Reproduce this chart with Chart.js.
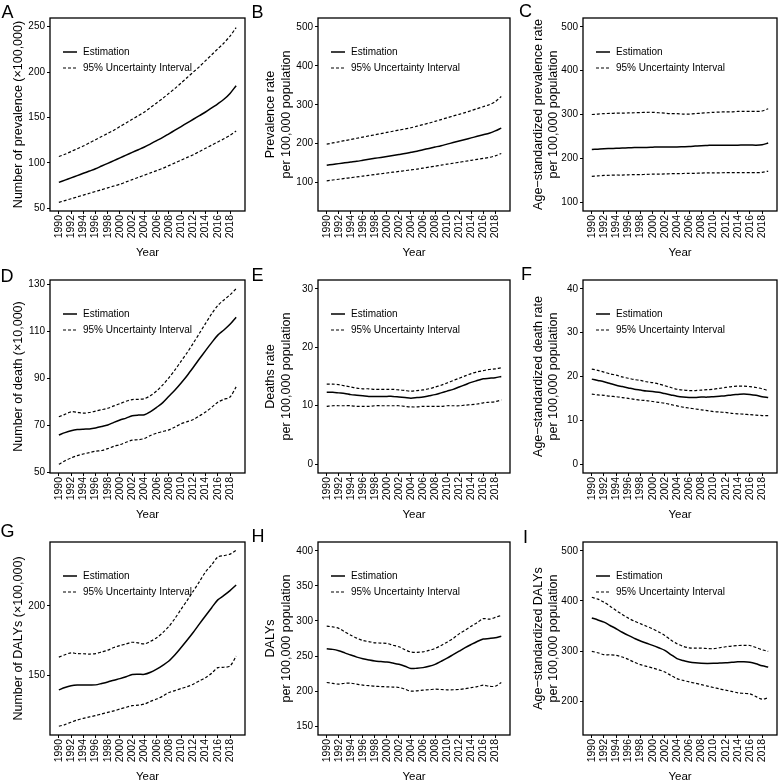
<!DOCTYPE html>
<html>
<head>
<meta charset="utf-8">
<title>Burden 1990-2019</title>
<script src="https://cdn.jsdelivr.net/npm/chart.js@4.4.1/dist/chart.umd.min.js"></script>
<style>
  html, body { margin: 0; padding: 0; background: #fff; }
  #page { position: relative; width: 780px; height: 782px; overflow: hidden; }
  #page canvas { position: absolute; }
  .letter { position: absolute; font: 18px 'Liberation Sans', Arial, sans-serif; line-height: 18px; color: #000; }
</style>
</head>
<body>
<div id="page"></div>
<script>
// ============================================
// Data
// ============================================

const years = [1990, 1991, 1992, 1993, 1994, 1995, 1996, 1997, 1998, 1999,
  2000, 2001, 2002, 2003, 2004, 2005, 2006, 2007, 2008, 2009,
  2010, 2011, 2012, 2013, 2014, 2015, 2016, 2017, 2018, 2019];
const yearTicks = [1990, 1992, 1994, 1996, 1998, 2000, 2002, 2004, 2006, 2008,
  2010, 2012, 2014, 2016, 2018];
const legendLabels = ['Estimation', '95% Uncertainty Interval'];

// A - number of prevalence (x100,000)
const prevNumEst = [78.5, 81, 83.5, 86, 88.5, 91, 93.5, 96.5, 99.5, 102.5, 105.5, 108.5, 111.5, 114.5, 117.5, 121, 124.5, 128, 132, 136, 140, 144, 148, 152, 156, 160.5, 165, 170, 176.5, 185];
const prevNumUpper = [107, 109.5, 112.5, 115.5, 118.5, 122, 125.5, 129, 132.5, 136, 140, 144, 148, 152, 156, 161, 166, 171, 176.5, 182, 188, 194, 200, 206, 212.5, 219, 225.5, 232, 239.5, 249];
const prevNumLower = [56.5, 58.5, 60.5, 62.5, 64.5, 66.5, 68.5, 70.5, 72.5, 74.5, 76.5, 79, 81.5, 84, 86.5, 89, 91.5, 94, 97, 100, 103, 106, 109, 112.5, 116, 119.5, 123, 126.5, 130.5, 135];
const prevNumTicks = [50, 100, 150, 200, 250];

// B - prevalence rate
const prevRateEst = [145, 147, 149, 151, 153, 155, 157.5, 160, 162.5, 165, 167.5, 170, 172.5, 175, 178, 181, 184.5, 188, 191.5, 195, 199, 203, 207, 211, 215, 219, 223, 227, 233, 240];
const prevRateUpper = [199, 202, 205, 208, 211, 214, 217, 220, 223, 226, 229, 232, 235, 238, 241, 245, 249, 253, 257.5, 262, 266.5, 271, 275.5, 280, 285, 290, 295, 300, 308, 321];
const prevRateLower = [105, 107, 109, 111, 113, 115, 117, 119, 121, 123, 125, 127, 129, 131, 133, 135, 137.5, 140, 142.5, 145, 147.5, 150, 152.5, 155, 157.5, 160, 162.5, 165, 169, 175];
const prevRateTicks = [100, 200, 300, 400, 500];

// C - age-standardized prevalence rate
const asPrevEst = [220, 221, 222, 222.5, 223, 223.5, 224, 224.5, 225, 225, 225.5, 226, 226, 226, 226, 226.5, 227, 228, 229, 229.5, 230, 230, 230, 230, 230, 230.5, 230.5, 230, 231, 235];
const asPrevUpper = [300, 301, 302, 302.5, 303, 303, 303.5, 304, 304.5, 305, 305, 304, 303, 302, 302, 301, 301, 302, 303, 304, 305, 305.5, 306, 306, 307, 307, 307, 307, 308, 313];
const asPrevLower = [159, 160, 161, 161.5, 162, 162, 162.5, 163, 163, 163.5, 164, 164, 164.5, 165, 165, 165.5, 166, 166, 166.5, 167, 167, 167, 167.5, 167.5, 167.5, 167.5, 167.5, 167.5, 168, 171];
const asPrevTicks = [100, 200, 300, 400, 500];

// D - number of death (x10,000)
const deathNumEst = [65.8, 66.8, 67.6, 68.1, 68.3, 68.4, 68.8, 69.4, 70.1, 71.2, 72.2, 73, 74, 74.3, 74.4, 75.8, 77.6, 79.6, 82.3, 85, 88, 91.2, 94.7, 98.3, 101.8, 105.2, 108.4, 110.6, 113, 116];
const deathNumUpper = [73.6, 74.6, 75.7, 75.5, 75.1, 75.4, 76, 76.6, 77.2, 78.2, 79.2, 80.2, 80.9, 81, 81.3, 82.6, 84.6, 87.2, 90.2, 93.6, 97.3, 101, 105, 109.2, 113.4, 117.5, 121, 123.4, 125.6, 128.2];
const deathNumLower = [53.3, 54.8, 56, 57, 57.7, 58.3, 58.9, 59.2, 60, 61, 61.7, 62.7, 63.6, 63.8, 64.3, 65.6, 66.6, 67.3, 68, 69.2, 70.6, 71.5, 72.4, 74, 75.6, 77.6, 79.8, 81, 82, 86.3];
const deathNumTicks = [50, 70, 90, 110, 130];

// E - deaths rate
const deathRateEst = [12.3, 12.3, 12.2, 12.1, 11.9, 11.8, 11.7, 11.6, 11.6, 11.6, 11.6, 11.6, 11.5, 11.4, 11.3, 11.4, 11.5, 11.7, 11.9, 12.2, 12.5, 12.8, 13.2, 13.6, 14.0, 14.3, 14.6, 14.7, 14.8, 15.0];
const deathRateUpper = [13.7, 13.7, 13.6, 13.4, 13.2, 13.0, 12.9, 12.9, 12.8, 12.8, 12.8, 12.8, 12.7, 12.6, 12.5, 12.6, 12.7, 12.9, 13.2, 13.5, 13.9, 14.3, 14.7, 15.1, 15.5, 15.8, 16.0, 16.2, 16.3, 16.5];
const deathRateLower = [9.9, 10.0, 10.0, 10.0, 10.0, 9.9, 9.9, 9.9, 10.0, 10.0, 10.0, 10.0, 10.0, 9.9, 9.8, 9.8, 9.9, 9.9, 9.9, 9.9, 10.0, 10.0, 10.0, 10.1, 10.2, 10.3, 10.5, 10.6, 10.7, 11.0];
const deathRateTicks = [0, 10, 20, 30];

// F - age-standardized death rate
const asDeathEst = [19.4, 19.1, 18.8, 18.4, 18.0, 17.7, 17.4, 17.1, 16.9, 16.7, 16.6, 16.4, 16.1, 15.8, 15.5, 15.3, 15.2, 15.2, 15.3, 15.3, 15.4, 15.5, 15.6, 15.8, 15.9, 16.0, 15.9, 15.7, 15.4, 15.2];
const asDeathUpper = [21.7, 21.4, 21.0, 20.6, 20.3, 19.9, 19.6, 19.3, 19.1, 18.8, 18.6, 18.3, 17.9, 17.5, 17.1, 16.9, 16.8, 16.8, 16.9, 17.0, 17.1, 17.3, 17.5, 17.7, 17.8, 17.8, 17.7, 17.5, 17.2, 16.8];
const asDeathLower = [16.0, 15.8, 15.7, 15.5, 15.4, 15.2, 15.0, 14.8, 14.6, 14.5, 14.3, 14.1, 13.9, 13.6, 13.3, 13.0, 12.8, 12.6, 12.4, 12.2, 12.0, 11.9, 11.8, 11.6, 11.5, 11.4, 11.3, 11.2, 11.1, 11.1];
const asDeathTicks = [0, 10, 20, 30, 40];

// G - number of DALYs (x100,000)
const dalyNumEst = [139.5, 141.2, 142.4, 143, 143.1, 143, 143.1, 144.1, 145.2, 146.5, 147.6, 149, 150.6, 150.8, 150.7, 152.2, 154.5, 157.2, 160.3, 164.8, 170, 175.4, 181, 187, 192.9, 198.7, 204.3, 207.5, 211, 215];
const dalyNumUpper = [163.1, 164.8, 166.2, 165.6, 165.5, 165.3, 165.6, 166.8, 168.1, 170, 171.4, 172.6, 173.8, 173.3, 172.6, 174.5, 177, 180.7, 185.2, 191, 197.6, 204, 210.7, 217.5, 224.5, 229.5, 235.2, 236.2, 237.3, 240];
const dalyNumLower = [113.3, 114.5, 116.2, 117.8, 119, 120, 121, 122.2, 123.3, 124.4, 125.7, 127, 128.1, 128.5, 129.3, 131.2, 132.9, 135, 137.6, 139, 140.5, 141.8, 143.6, 146, 148.3, 151.5, 155.5, 155.8, 156.7, 163.8];
const dalyNumTicks = [150, 200];

// H - DALYs rate
const dalyRateEst = [260.4, 259.5, 257.5, 254.5, 251.4, 248.5, 246.2, 244.4, 242.9, 242.2, 241.5, 240, 238.2, 235.5, 232.3, 232.6, 233.5, 235.4, 238.2, 242.5, 247, 252, 257, 262, 266.5, 270.7, 274.2, 275, 276, 278.3];
const dalyRateUpper = [292.5, 291.5, 289.5, 284.5, 279.7, 275.5, 272.2, 270.5, 268.9, 268.5, 267.9, 265.5, 263.2, 259, 255.7, 255.3, 256, 258, 260.8, 265, 269.8, 275, 281.6, 287, 292.5, 297.5, 303.3, 302.5, 305, 308];
const dalyRateLower = [212.3, 211, 210, 211.3, 211.3, 210, 208.5, 207.8, 207, 206.5, 206.1, 205.8, 205.2, 202.8, 200, 200.5, 201.4, 202, 202.8, 202.3, 201.9, 202, 202.4, 203.5, 205, 206.5, 208.5, 207, 207, 212.3];
const dalyRateTicks = [150, 200, 250, 300, 350, 400];

// I - age-standardized DALYs
const asDalyEst = [366, 362, 357.6, 351, 344.4, 337.5, 331.1, 325.3, 319.9, 315.5, 311.3, 306.5, 301.3, 293, 285, 281, 278.3, 276.5, 275.5, 275.3, 275.5, 276, 276.5, 277.5, 278.5, 278.5, 277.5, 274.5, 270.5, 268.2];
const asDalyUpper = [407.3, 403.5, 397.4, 389.5, 380.8, 373, 365.6, 359.5, 354.3, 349.5, 344.4, 338, 331.1, 322, 314.6, 309.5, 306.3, 305.8, 305.8, 305, 304.6, 306.5, 308.5, 310, 311, 311.3, 311, 307, 302.5, 299.3];
const asDalyLower = [299.3, 296.5, 292.7, 292.5, 291.4, 288, 283.4, 277.5, 272.8, 269.5, 266.2, 262.5, 258.3, 251.5, 245, 241.5, 238.4, 235.8, 233.1, 230, 227.2, 224.5, 221.9, 219.5, 216.6, 215.5, 214.5, 209, 204, 206.6];
const asDalyTicks = [200, 300, 400, 500];

// ============================================
// Panels
// ============================================

const FONT = "'Liberation Sans', Arial, Helvetica, sans-serif";
const PER = 'per 100,000 population';

// column geometry: canvas left, y-axis width, right padding, title padding
const columns = [
  { x: 0, yWidth: 50, padRight: 15 },
  { x: 260, yWidth: 58, padRight: 10 },
  { x: 520, yWidth: 63, padRight: 3 }
];
const rowTops = [0, 262, 524];

const panels = [
  { letter: 'A', col: 0, row: 0, est: prevNumEst, up: prevNumUpper, lo: prevNumLower, ticks: prevNumTicks, min: 47, max: 259.5, title: 'Number of prevalence (×100,000)', titlePad: 10.7, lx: 1.5, ly: 18 },
  { letter: 'B', col: 1, row: 0, est: prevRateEst, up: prevRateUpper, lo: prevRateLower, ticks: prevRateTicks, min: 27.5, max: 522.5, title: ['Prevalence rate', PER], titlePad: 3, lx: 251.5, ly: 18 },
  { letter: 'C', col: 2, row: 0, est: asPrevEst, up: asPrevUpper, lo: asPrevLower, ticks: asPrevTicks, min: 80, max: 520, title: ['Age−standardized prevalence rate', PER], titlePad: 10.5, lx: 519, ly: 17 },
  { letter: 'D', col: 0, row: 1, est: deathNumEst, up: deathNumUpper, lo: deathNumLower, ticks: deathNumTicks, min: 49.6, max: 131.9, title: 'Number of death (×10,000)', titlePad: 10.7, lx: 0.5, ly: 282 },
  { letter: 'E', col: 1, row: 1, est: deathRateEst, up: deathRateUpper, lo: deathRateLower, ticks: deathRateTicks, min: -1.5, max: 31.5, title: ['Deaths rate', PER], titlePad: 3, lx: 251.5, ly: 281 },
  { letter: 'F', col: 2, row: 1, est: asDeathEst, up: asDeathUpper, lo: asDeathLower, ticks: asDeathTicks, min: -2, max: 42, title: ['Age−standardized death rate', PER], titlePad: 10.5, lx: 521, ly: 280 },
  { letter: 'G', col: 0, row: 2, est: dalyNumEst, up: dalyNumUpper, lo: dalyNumLower, ticks: dalyNumTicks, min: 107, max: 246, title: 'Number of DALYs (×100,000)', titlePad: 10.7, lx: 0.5, ly: 537 },
  { letter: 'H', col: 1, row: 2, est: dalyRateEst, up: dalyRateUpper, lo: dalyRateLower, ticks: dalyRateTicks, min: 137.5, max: 412.5, title: ['DALYs', PER], titlePad: 3, lx: 251.5, ly: 542 },
  { letter: 'I', col: 2, row: 2, est: asDalyEst, up: asDalyUpper, lo: asDalyLower, ticks: asDalyTicks, min: 132.5, max: 517.5, title: ['Age−standardized DALYs', PER], titlePad: 10.5, lx: 523, ly: 543 }
];

// frame around the plot area plus the legend inside it
const frameAndLegend = {
  id: 'frameAndLegend',
  afterDatasetsDraw(chart) {
    const { ctx, chartArea: a } = chart;
    ctx.save();
    ctx.strokeStyle = '#000';
    ctx.lineWidth = 1.3;
    ctx.strokeRect(a.left, a.top, a.right - a.left, a.bottom - a.top);

    ctx.font = '10px ' + FONT;
    ctx.fillStyle = '#000';
    ctx.textBaseline = 'middle';
    legendLabels.forEach((label, i) => {
      const y = a.top + 34 + i * 16;
      ctx.beginPath();
      ctx.lineWidth = i === 0 ? 1.5 : 1.2;
      ctx.setLineDash(i === 0 ? [] : [3, 2]);
      ctx.moveTo(a.left + 13, y);
      ctx.lineTo(a.left + 27, y);
      ctx.stroke();
      ctx.fillText(label, a.left + 33, y);
    });
    ctx.restore();
  }
};

function toPoints(values) {
  return values.map((v, i) => ({ x: years[i], y: v }));
}

function makePanel(p) {
  const col = columns[p.col];
  const page = document.getElementById('page');
  const canvas = document.createElement('canvas');
  canvas.width = 260;
  canvas.height = 262;
  canvas.style.left = col.x + 'px';
  canvas.style.top = rowTops[p.row] + 'px';
  page.appendChild(canvas);

  const letter = document.createElement('div');
  letter.className = 'letter';
  letter.textContent = p.letter;
  letter.style.left = p.lx + 'px';
  letter.style.top = (p.ly - 15.2) + 'px';
  page.appendChild(letter);

  const line = { borderColor: '#000', pointRadius: 0, tension: 0.3, fill: false };

  new Chart(canvas, {
    type: 'line',
    data: {
      datasets: [
        { ...line, data: toPoints(p.est), borderWidth: 1.5 },
        { ...line, data: toPoints(p.up), borderWidth: 1.2, borderDash: [3, 2] },
        { ...line, data: toPoints(p.lo), borderWidth: 1.2, borderDash: [3, 2] }
      ]
    },
    options: {
      responsive: false,
      animation: false,
      events: [],
      layout: { padding: { top: 18, right: col.padRight, bottom: 0, left: 0 } },
      plugins: { legend: { display: false }, tooltip: { enabled: false } },
      scales: {
        x: {
          type: 'linear',
          min: 1988.55,
          max: 2020.45,
          afterBuildTicks: s => { s.ticks = yearTicks.map(v => ({ value: v })); },
          afterFit: s => { s.height = 51; },
          grid: { drawOnChartArea: false, drawTicks: true, tickLength: 3, color: '#000', lineWidth: 1 },
          border: { display: false },
          ticks: {
            autoSkip: false, minRotation: 90, maxRotation: 90, padding: 1,
            color: '#000', font: { family: FONT, size: 10.5 },
            callback: v => String(v)
          },
          title: { display: true, text: 'Year', color: '#000', font: { family: FONT, size: 11.5 }, padding: { top: 0, bottom: 2 } }
        },
        y: {
          min: p.min,
          max: p.max,
          afterBuildTicks: s => { s.ticks = p.ticks.map(v => ({ value: v })); },
          afterFit: s => { s.width = col.yWidth; },
          grid: { drawOnChartArea: false, drawTicks: true, tickLength: 3, color: '#000', lineWidth: 1 },
          border: { display: false },
          ticks: { padding: 2, color: '#000', font: { family: FONT, size: 10 }, callback: v => String(v) },
          title: {
            display: true, text: p.title, color: '#000',
            font: { family: FONT, size: 12.5, lineHeight: 1.25 },
            padding: { top: p.titlePad, bottom: 0 }
          }
        }
      }
    },
    plugins: [frameAndLegend]
  });
}

panels.forEach(makePanel);
</script>
</body>
</html>
